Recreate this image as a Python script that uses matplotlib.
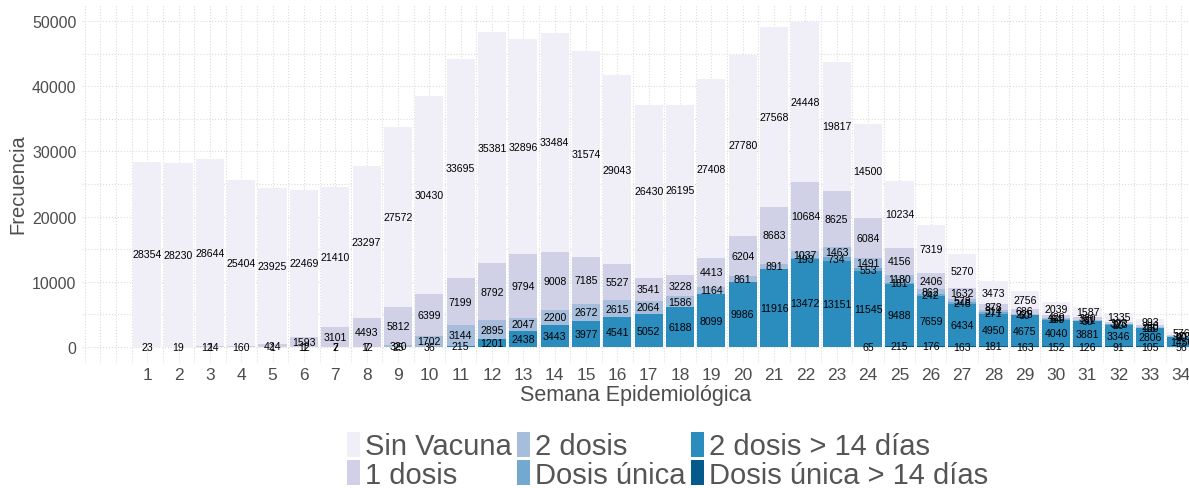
import numpy as np
import matplotlib.pyplot as plt
from matplotlib.ticker import MultipleLocator

plt.rcParams['font.family'] = ['Liberation Sans', 'DejaVu Sans']

# weekly counts by vaccination status
semanas = list(range(1, 35))
sin_vacuna = [28354, 28230, 28644, 25404, 23925, 22469, 21410, 23297, 27572, 30430,
              33695, 35381, 32896, 33484, 31574, 29043, 26430, 26195, 27408, 27780,
              27568, 24448, 19817, 14500, 10234, 7319, 5270, 3473, 2756, 2039,
              1587, 1335, 993, 576]
una_dosis = [23, 19, 124, 160, 424, 1593, 3101, 4493, 5812, 6399,
             7199, 8792, 9794, 9008, 7185, 5527, 3541, 3228, 4413, 6204,
             8683, 10684, 8625, 6084, 4156, 2406, 1632, 878, 686, 429,
             380, 303, 280, 170]
dos_dosis = [0, 0, 1, 0, 1, 12, 7, 12, 320, 1702,
             3144, 2895, 2047, 2200, 2672, 2615, 2064, 1586, 1164, 861,
             891, 1037, 1463, 1491, 1180, 862, 578, 314, 225, 169,
             161, 123, 130, 90]
dosis_unica = [0] * 21 + [193, 734, 553, 181, 242, 248, 271, 60, 64, 30, 20, 15, 40]
dos_dosis_14 = [0, 0, 0, 0, 0, 1, 2, 7, 25, 36,
                215, 1201, 2438, 3443, 3977, 4541, 5052, 6188, 8099, 9986,
                11916, 13472, 13151, 11545, 9488, 7659, 6434, 4950, 4675, 4040,
                3881, 3346, 2806, 1450]
unica_14 = [0] * 23 + [65, 215, 176, 163, 181, 163, 152, 126, 91, 105, 56]

categorias = ["Sin Vacuna", "1 dosis", "2 dosis", "Dosis única",
              "2 dosis > 14 días", "Dosis única > 14 días"]
colores = ["#f0eef6", "#d0d1e6", "#a6bddb", "#74a9cf", "#2b8cbe", "#045a8d"]
series = [sin_vacuna, una_dosis, dos_dosis, dosis_unica, dos_dosis_14, unica_14]

fig = plt.figure(figsize=(11.89, 4.89), dpi=100)
ax = fig.add_axes([0.069, 0.2556, 0.931, 0.734])

x = np.array(semanas)
# stack from the bottom: last category at the base
bottom = np.zeros(len(x))
handles = {}
for nombre, color, vals in reversed(list(zip(categorias, colores, series))):
    vals = np.array(vals, dtype=float)
    bars = ax.bar(x, vals, bottom=bottom, width=0.9, color=color, zorder=2)
    handles[nombre] = bars
    for xi, b, v in zip(x, bottom, vals):
        if v > 0:
            ax.text(xi, b + v / 2, f"{int(v)}", ha='center', va='center',
                    fontsize=7.6, color='black', zorder=3)
    bottom = bottom + vals

ax.set_xlim(-1.08, 34.24)
ax.set_ylim(-2450, 52600)
ax.set_xticks(semanas)
ax.xaxis.set_minor_locator(MultipleLocator(0.5))
ax.yaxis.set_major_locator(MultipleLocator(10000))
ax.yaxis.set_minor_locator(MultipleLocator(5000))
ax.grid(which='both', linestyle=':', color='#dcdcdc', linewidth=0.8, zorder=0)
ax.set_axisbelow(True)
for s in ax.spines.values():
    s.set_visible(False)
ax.tick_params(which='both', length=0)
ax.tick_params(axis='y', labelsize=11.5, labelcolor='#4d4d4d', pad=4)
ax.tick_params(axis='x', labelsize=12.5, labelcolor='#4d4d4d', pad=3)

ax.set_xlabel("Semana Epidemiológica", fontsize=15.5, color='#4d4d4d', labelpad=1)
ax.set_ylabel("Frecuencia", fontsize=14.5, color='#4d4d4d', labelpad=3)

leg = fig.legend([handles[c] for c in categorias], categorias, ncol=3,
                 loc='center', bbox_to_anchor=(0.5614, 0.057), frameon=False,
                 fontsize=21, handlelength=0.45, handleheight=0.95,
                 handletextpad=0.15, columnspacing=0.2, labelspacing=0.0,
                 borderpad=0)
for t in leg.get_texts():
    t.set_color('#555555')

fig.savefig("out.png", dpi=100)
